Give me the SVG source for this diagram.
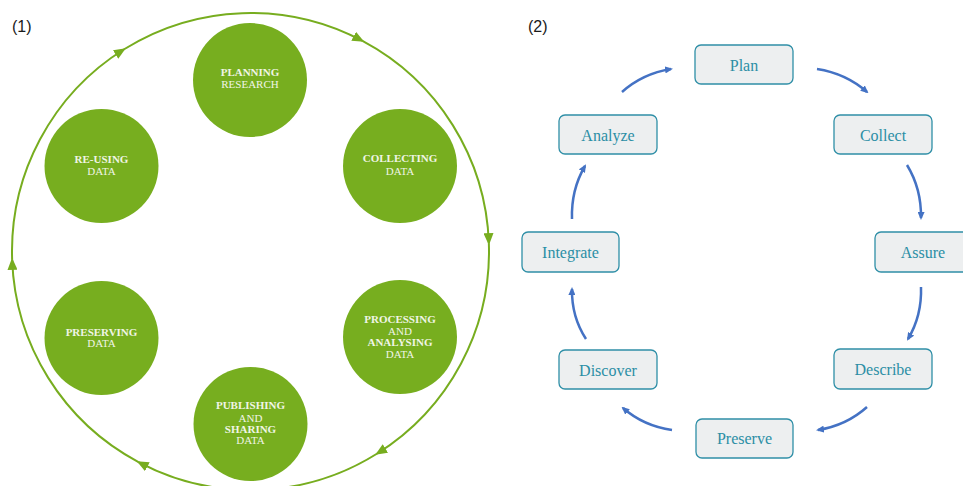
<svg xmlns="http://www.w3.org/2000/svg" width="963" height="486" viewBox="0 0 963 486">
<defs>
<style>
.lbl{font-family:"Liberation Sans",Arial,sans-serif;font-size:16px;fill:#1a1a1a}
.ring{fill:none;stroke:#77ad1f;stroke-width:2}
.node{fill:#77ae1f}
.nt{font-family:"Liberation Serif","Times New Roman",serif;font-size:11px;fill:#f0f5e6;text-anchor:middle}
.b{font-weight:bold}
.box{fill:#edeff0;stroke:#2f8fa7;stroke-width:1.3}
.bt{font-family:"Liberation Serif","Times New Roman",serif;font-size:16px;fill:#2b8ea5;text-anchor:middle}
.arr{fill:none;stroke:#4472c4;stroke-width:2.5;marker-end:url(#ab)}
</style>
<marker id="ag" viewBox="0 0 12 10" refX="10" refY="5" markerWidth="12" markerHeight="10" markerUnits="userSpaceOnUse" orient="auto">
<path d="M0,0 L12,5 L0,10 z" fill="#77ad1f"/>
</marker>
<marker id="ab" viewBox="0 0 8 7" refX="6" refY="3.5" markerWidth="8" markerHeight="7" markerUnits="userSpaceOnUse" orient="auto">
<path d="M0,0 L8,3.5 L0,7 z" fill="#4472c4"/>
</marker>
</defs>
<rect width="963" height="486" fill="#ffffff"/>
<text class="lbl" x="12" y="32">(1)</text>
<text class="lbl" x="528" y="32">(2)</text>

<g id="ring-connectors">
<path class="ring" marker-end="url(#ag)" d="M12.15,259.82 A238.5,238.5 0 0 1 124.11,49.24"/>
<path class="ring" marker-end="url(#ag)" d="M124.11,49.24 A238.5,238.5 0 0 1 362.47,40.92"/>
<path class="ring" marker-end="url(#ag)" d="M362.47,40.92 A238.5,238.5 0 0 1 488.85,243.18"/>
<path class="ring" marker-end="url(#ag)" d="M488.85,243.18 A238.5,238.5 0 0 1 376.89,453.76"/>
<path class="ring" marker-end="url(#ag)" d="M376.89,453.76 A238.5,238.5 0 0 1 138.53,462.08"/>
<path class="ring" marker-end="url(#ag)" d="M138.53,462.08 A238.5,238.5 0 0 1 12.15,259.82"/>
</g>

<g id="planning">
<circle class="node" cx="250" cy="80" r="57"/>
<text class="nt b" x="250" y="76">PLANNING</text>
<text class="nt" x="250" y="88">RESEARCH</text>
</g>
<g id="collecting">
<circle class="node" cx="400" cy="166" r="57"/>
<text class="nt b" x="400" y="162">COLLECTING</text>
<text class="nt" x="400" y="175">DATA</text>
</g>
<g id="processing">
<circle class="node" cx="400" cy="337" r="57"/>
<text class="nt b" x="400" y="323">PROCESSING</text>
<text class="nt" x="400" y="335">AND</text>
<text class="nt b" x="400" y="346">ANALYSING</text>
<text class="nt" x="400" y="358">DATA</text>
</g>
<g id="publishing">
<circle class="node" cx="250.5" cy="424" r="57"/>
<text class="nt b" x="250.5" y="409">PUBLISHING</text>
<text class="nt" x="250.5" y="422">AND</text>
<text class="nt b" x="250.5" y="433">SHARING</text>
<text class="nt" x="250.5" y="444">DATA</text>
</g>
<g id="preserving">
<circle class="node" cx="101.5" cy="338" r="57"/>
<text class="nt b" x="101.5" y="336">PRESERVING</text>
<text class="nt" x="101.5" y="347">DATA</text>
</g>
<g id="reusing">
<circle class="node" cx="101.5" cy="166" r="57"/>
<text class="nt b" x="101.5" y="163">RE-USING</text>
<text class="nt" x="101.5" y="175">DATA</text>
</g>

<g id="cycle-connectors">
<path class="arr" d="M622,92 Q642.5,73.6 671,69"/>
<path class="arr" d="M817,69 Q846,73.5 867,92"/>
<path class="arr" d="M907,165 Q921.5,188.8 921,218"/>
<path class="arr" d="M921,287 Q922,315.7 908,339"/>
<path class="arr" d="M867,407 Q846.5,425.4 818,430"/>
<path class="arr" d="M672,430 Q643.5,425.9 623,408"/>
<path class="arr" d="M586,339 Q571.5,316.8 572,289"/>
<path class="arr" d="M572,219 Q571,189.8 585,166"/>
</g>

<g id="plan">
<rect class="box" x="695" y="45" width="98" height="39" rx="6"/>
<text class="bt" x="744" y="71">Plan</text>
</g>
<g id="collect">
<rect class="box" x="834" y="115" width="98" height="39" rx="6"/>
<text class="bt" x="883" y="141">Collect</text>
</g>
<g id="assure">
<rect class="box" x="875" y="232" width="98" height="40" rx="6"/>
<text class="bt" x="923" y="258">Assure</text>
</g>
<g id="describe">
<rect class="box" x="834" y="349" width="98" height="40" rx="6"/>
<text class="bt" x="883" y="375">Describe</text>
</g>
<g id="preserve">
<rect class="box" x="696" y="419" width="97" height="39" rx="6"/>
<text class="bt" x="744.5" y="444">Preserve</text>
</g>
<g id="discover">
<rect class="box" x="559" y="350" width="98" height="39" rx="6"/>
<text class="bt" x="608" y="376">Discover</text>
</g>
<g id="integrate">
<rect class="box" x="522" y="232" width="97" height="40" rx="6"/>
<text class="bt" x="570.5" y="258">Integrate</text>
</g>
<g id="analyze">
<rect class="box" x="559" y="115" width="98" height="39" rx="6"/>
<text class="bt" x="608" y="141">Analyze</text>
</g>
</svg>
